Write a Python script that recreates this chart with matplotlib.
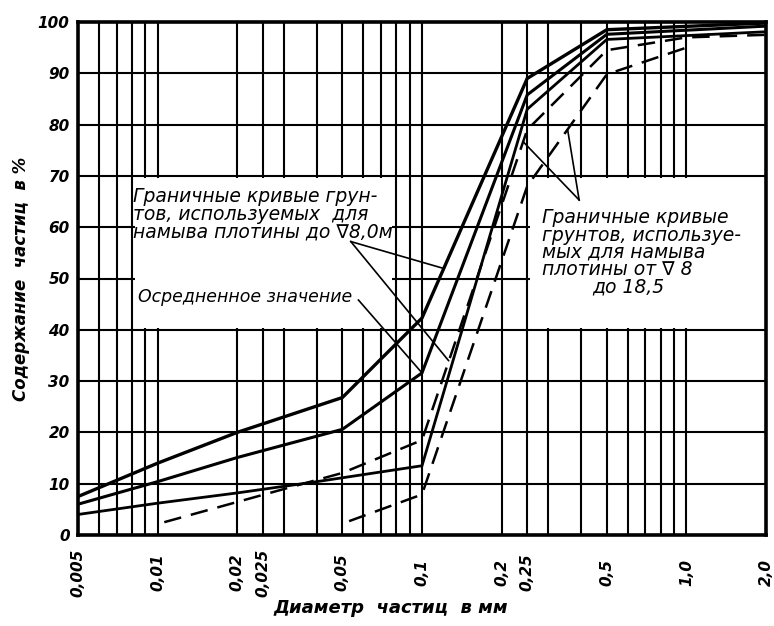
import matplotlib
matplotlib.use("Agg")
import matplotlib.pyplot as plt
from matplotlib.patches import Rectangle

# ---------------- data ----------------
x_ticks = [0.005, 0.01, 0.02, 0.025, 0.05, 0.1, 0.2, 0.25, 0.5, 1.0, 2.0]
x_tick_labels = ["0,005", "0,01", "0,02", "0,025", "0,05", "0,1", "0,2", "0,25", "0,5", "1,0", "2,0"]
y_ticks = [0, 10, 20, 30, 40, 50, 60, 70, 80, 90, 100]
y_tick_labels = ["0", "10", "20", "30", "40", "50", "60", "70", "80", "90", "100"]

v_grid = [0.006, 0.007, 0.008, 0.009, 0.01, 0.02, 0.025, 0.03, 0.04, 0.05, 0.06,
          0.07, 0.08, 0.09, 0.1, 0.2, 0.25, 0.3, 0.4, 0.5, 0.6, 0.7, 0.8, 0.9, 1.0]
h_grid = [10, 20, 30, 40, 50, 60, 70, 80, 90]

# solid curves (boundary curves up to 8.0 m and averaged value)
upper_x = [0.005, 0.01, 0.02, 0.05, 0.1, 0.25, 0.5, 2.0]
upper_y = [7.5, 14.0, 20.0, 26.8, 42.3, 89.0, 98.5, 99.8]
mean_x = [0.005, 0.01, 0.02, 0.05, 0.1, 0.25, 0.5, 2.0]
mean_y = [6.0, 10.4, 15.1, 20.6, 31.6, 85.8, 97.6, 99.2]
lower_x = [0.005, 0.01, 0.02, 0.04, 0.1, 0.25, 0.5, 2.0]
lower_y = [4.0, 6.2, 8.2, 10.4, 13.5, 83.0, 96.6, 98.1]
# dashed curves (boundary curves from 8 to 18.5)
dash1_x = [0.0106, 0.0344, 0.05, 0.1, 0.25, 0.5, 1.0, 2.0]
dash1_y = [2.5, 9.8, 12.1, 18.5, 79.0, 94.5, 97.0, 97.5]
dash2_x = [0.053, 0.1, 0.25, 0.5, 1.0]
dash2_y = [2.7, 7.9, 68.0, 89.8, 95.0]

# leader lines of the labels (start point, end points)
left_lead_start = (0.0538, 57.2)
left_lead_ends = [(0.12, 52.0), (0.126, 34.0)]
mean_lead_start = (0.0575, 45.8)
mean_lead_ends = [(0.1, 31.6)]
right_lead_start = (0.393, 65.3)
right_lead_ends = [(0.243, 76.5), (0.356, 78.8)]

text_left = ["Граничные кривые грун-", "тов, используемых  для", "намыва плотины до ∇8,0м"]
text_mean = "Осредненное значение"
text_right = ["Граничные кривые", "грунтов, используе-", "мых для намыва", "плотины от ∇ 8"]
text_right_last = "до 18,5"

# ---------------- figure ----------------
W, H = 774, 626
fig = plt.figure(figsize=(W / 100, H / 100), dpi=100)
ax = fig.add_axes([78 / W, 1 - 535 / H, 688 / W, 513 / H])
ax.set_xscale("log")
ax.set_xlim(0.005, 2.0)
ax.set_ylim(0, 100)

grid_kw = dict(color="black", lw=1.5, zorder=1)
for v in v_grid:
    ax.axvline(v, **grid_kw)
for h in h_grid:
    ax.axhline(h, **grid_kw)

# white label areas hiding the grid
ax.add_patch(Rectangle((0.0082, 40.4), 0.077 - 0.0082, 29.2, facecolor="white",
                       edgecolor="none", zorder=2))
ax.add_patch(Rectangle((0.256, 40.4), 1.985 - 0.256, 29.2, facecolor="white",
                       edgecolor="none", zorder=2))

ax.plot(upper_x, upper_y, color="black", lw=2.4, zorder=4, solid_joinstyle="miter")
ax.plot(mean_x, mean_y, color="black", lw=2.2, zorder=4, solid_joinstyle="miter")
ax.plot(lower_x, lower_y, color="black", lw=2.0, zorder=4, solid_joinstyle="miter")
ax.plot(dash1_x, dash1_y, color="black", lw=1.8, zorder=4, dashes=(7, 4))
ax.plot(dash2_x, dash2_y, color="black", lw=1.8, zorder=4, dashes=(7, 4))

for (sx, sy), ends in [(left_lead_start, left_lead_ends),
                       (mean_lead_start, mean_lead_ends),
                       (right_lead_start, right_lead_ends)]:
    for ex, ey in ends:
        ax.plot([sx, ex], [sy, ey], color="black", lw=1.2, zorder=5)

for s in ["left", "bottom", "right", "top"]:
    ax.spines[s].set_linewidth(2.6)
    ax.spines[s].set_zorder(6)

tick_font = dict(family="DejaVu Sans", weight="bold", style="italic", size=11)
ax.set_xticks(x_ticks)
ax.set_xticklabels(x_tick_labels, rotation=90, **tick_font)
ax.xaxis.set_minor_locator(matplotlib.ticker.NullLocator())
ax.set_yticks(y_ticks)
ax.set_yticklabels(y_tick_labels, **tick_font)
ax.tick_params(axis="both", length=0)
ax.tick_params(axis="y", pad=6)
ax.tick_params(axis="x", pad=27)
for lab in ax.get_xticklabels():
    lab.set_va("center")

ax.set_xlabel("Диаметр  частиц  в мм", family="DejaVu Sans", style="italic",
              weight="bold", size=13)
ax.set_ylabel("Содержание  частиц  в %", family="DejaVu Sans", style="italic",
              weight="bold", size=12)
ax.xaxis.set_label_coords(0.455, -0.125)
ax.yaxis.set_label_coords(-0.07, 0.5)

txt_kw = dict(family="DejaVu Sans", style="italic", transform=ax.transAxes,
              zorder=7, va="center", ha="left")
for i, line in enumerate(text_left):
    ax.text(0.080, 0.659 - i * 0.034, line, size=13.5, **txt_kw)
ax.text(0.087, 0.464, text_mean, size=12.5, **txt_kw)
for i, line in enumerate(text_right):
    ax.text(0.674, 0.618 - i * 0.0335, line, size=13.5, **txt_kw)
ax.text(0.747, 0.483, text_right_last, size=13.5, **txt_kw)

fig.savefig("out.png", dpi=100)
